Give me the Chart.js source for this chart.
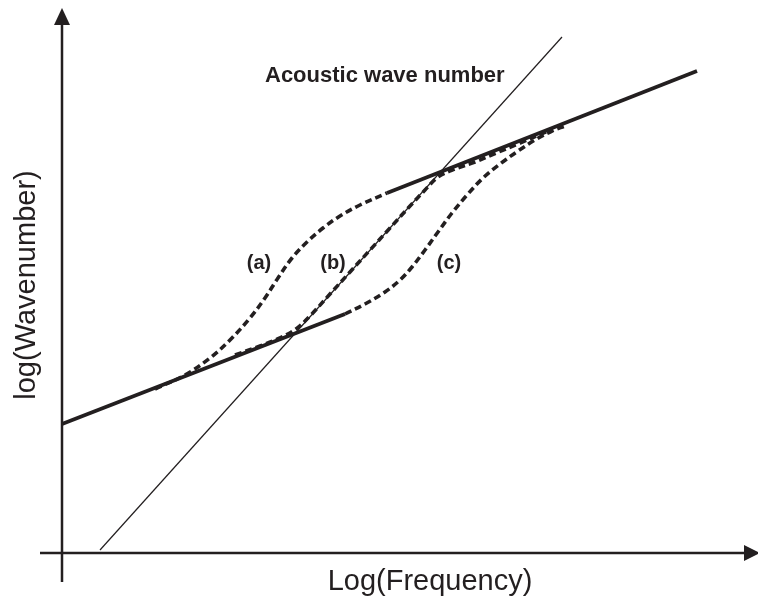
<!DOCTYPE html>
<html>
<head>
<meta charset="utf-8">
<script src="https://cdn.jsdelivr.net/npm/chart.js@4"></script>
<style>
  html, body { margin: 0; padding: 0; background: #fff; }
  #chart { display: block; }
</style>
</head>
<body>
<canvas id="chart" width="758" height="601"></canvas>
<script>
// Schematic dispersion diagram: log(wavenumber) against log(frequency).
// Units are arbitrary, origin where the two axes cross.

const lowBranch = [[0, 129], [283, 239]];
const highBranch = [[325, 360], [635, 482]];
const acousticLine = [[38, 3], [500, 516]];

const curveA = [[93, 164], [123, 178], [148, 195], [168, 213], [188, 235], [203, 255],
  [216, 275], [230, 295], [245, 311], [261, 325], [278, 337], [298, 348], [325, 360]];
const curveB = [[173, 198], [198, 207], [218, 215], [234, 224], [248, 237], [268, 259],
  [288, 281], [308, 303], [328, 325], [348, 347], [363, 363], [376, 376], [393, 384],
  [413, 391], [433, 399.5], [458, 410], [486, 422]];
const curveC = [[283, 239], [303, 249], [323, 261], [338, 273], [350, 286], [363, 303],
  [376, 321], [390, 340], [405, 358], [421, 375], [438, 389], [456, 402], [473, 413],
  [490, 422], [503, 427]];

const curveLabels = [
  { text: '(a)', x: 197, y: 290 },
  { text: '(b)', x: 271, y: 290 },
  { text: '(c)', x: 387, y: 290 }
];
const acousticLabel = { text: 'Acoustic wave number', x: 203, y: 471 };
const xTitle = { text: 'Log(Frequency)', x: 368, y: -29 };
const yTitle = { text: 'log(Wavenumber)', x: -35, y: 268 };

const ink = '#231f20';
const toPoints = arr => arr.map(([x, y]) => ({ x, y }));

// axes with arrow heads, and all the text, drawn on top of the scales
const sketchPlugin = {
  id: 'sketch',
  afterDatasetsDraw(chart) {
    const { ctx, scales: { x, y } } = chart;
    const px = v => x.getPixelForValue(v);
    const py = v => y.getPixelForValue(v);
    const ox = px(0), oy = py(0);

    ctx.save();
    ctx.strokeStyle = ink;
    ctx.fillStyle = ink;
    ctx.lineWidth = 2.5;

    // horizontal axis
    ctx.beginPath();
    ctx.moveTo(px(-22), oy);
    ctx.lineTo(px(682), oy);
    ctx.stroke();
    ctx.beginPath();
    ctx.moveTo(px(698), oy);
    ctx.lineTo(px(682), oy - 8);
    ctx.lineTo(px(682), oy + 8);
    ctx.closePath();
    ctx.fill();

    // vertical axis
    ctx.beginPath();
    ctx.moveTo(ox, py(-29));
    ctx.lineTo(ox, py(528));
    ctx.stroke();
    ctx.beginPath();
    ctx.moveTo(ox, py(545));
    ctx.lineTo(ox - 8, py(528));
    ctx.lineTo(ox + 8, py(528));
    ctx.closePath();
    ctx.fill();

    ctx.font = 'bold 20px "Liberation Sans", Arial, sans-serif';
    ctx.textAlign = 'center';
    ctx.textBaseline = 'middle';
    curveLabels.forEach(l => ctx.fillText(l.text, px(l.x), py(l.y)));

    ctx.font = 'bold 22px "Liberation Sans", Arial, sans-serif';
    ctx.textAlign = 'left';
    ctx.textBaseline = 'alphabetic';
    ctx.fillText(acousticLabel.text, px(acousticLabel.x), py(acousticLabel.y));

    ctx.font = '29px "Liberation Sans", Arial, sans-serif';
    ctx.textAlign = 'center';
    ctx.textBaseline = 'middle';
    ctx.fillText(xTitle.text, px(xTitle.x), py(xTitle.y));

    ctx.translate(px(yTitle.x), py(yTitle.y));
    ctx.rotate(-Math.PI / 2);
    ctx.fillText(yTitle.text, 0, 0);
    ctx.restore();
  }
};

const solid = (data, width) => ({
  data: toPoints(data),
  showLine: true,
  borderColor: ink,
  borderWidth: width,
  pointRadius: 0,
  borderCapStyle: 'butt'
});
const dashed = data => ({
  data: toPoints(data),
  showLine: true,
  borderColor: ink,
  borderWidth: 3.6,
  borderDash: [7, 4],
  pointRadius: 0,
  tension: 0.35
});

new Chart(document.getElementById('chart'), {
  type: 'scatter',
  data: {
    datasets: [
      dashed(curveA),
      dashed(curveB),
      dashed(curveC),
      solid(acousticLine, 1.2),
      solid(lowBranch, 3.8),
      solid(highBranch, 3.8)
    ]
  },
  options: {
    responsive: false,
    devicePixelRatio: 1,
    animation: false,
    layout: { padding: 0 },
    scales: {
      x: { type: 'linear', min: -62, max: 696, display: false },
      y: { type: 'linear', min: -48, max: 553, display: false }
    },
    plugins: {
      legend: { display: false },
      tooltip: { enabled: false }
    }
  },
  plugins: [sketchPlugin]
});
</script>
</body>
</html>
